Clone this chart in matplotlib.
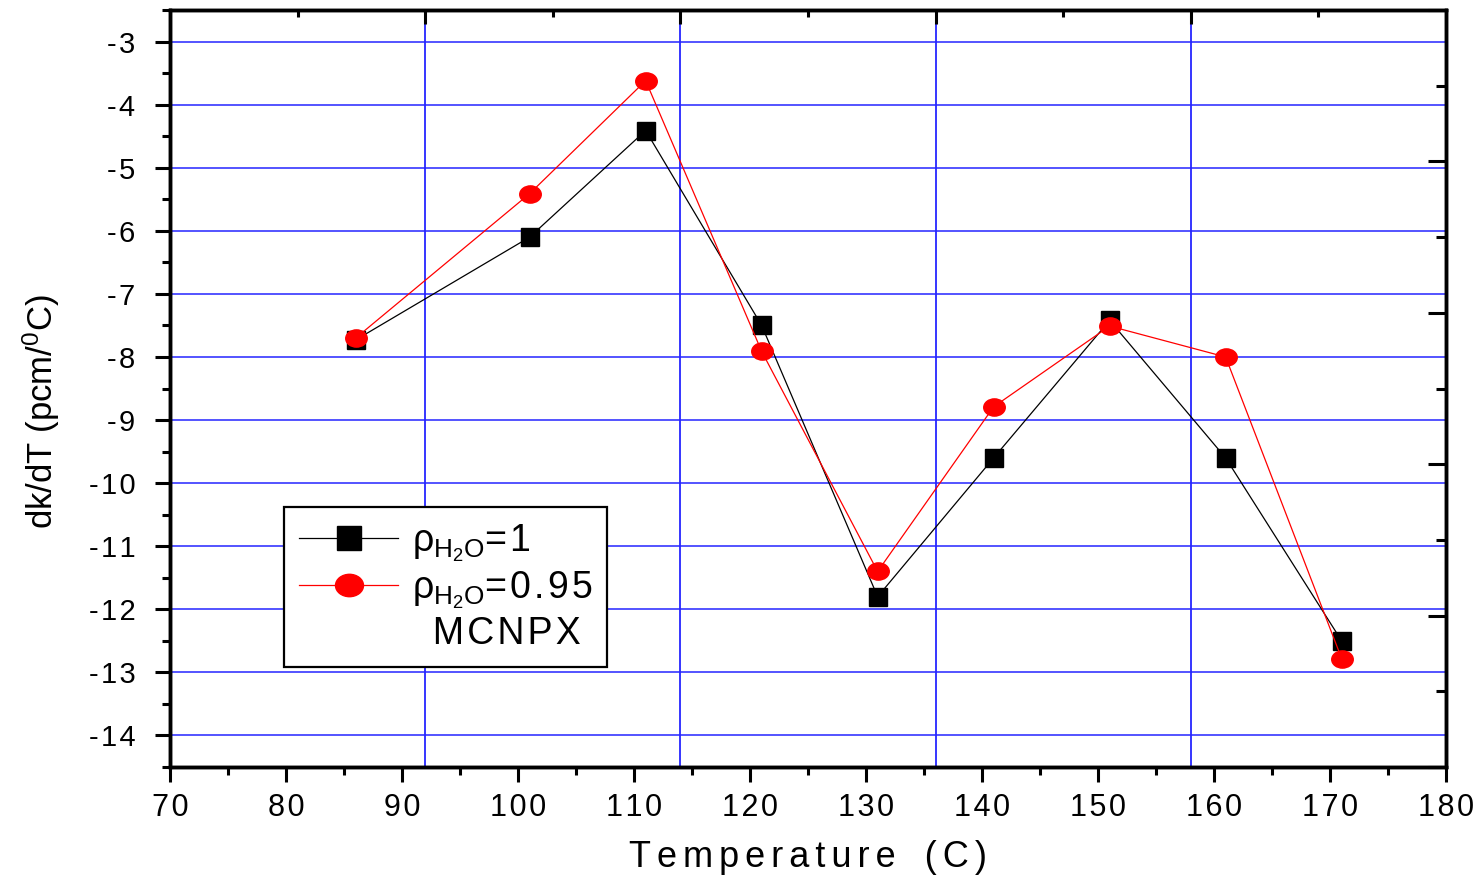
import numpy as np
import matplotlib.pyplot as plt
from matplotlib.lines import Line2D
from matplotlib.path import Path
from matplotlib.transforms import Affine2D
from matplotlib.ticker import FuncFormatter

plt.rcParams['font.family'] = ['Liberation Sans', 'DejaVu Sans']
plt.rcParams['mathtext.fontset'] = 'custom'
plt.rcParams['mathtext.rm'] = 'Liberation Sans'
plt.rcParams['mathtext.it'] = 'Liberation Sans'

temps = [86, 101, 111, 121, 131, 141, 151, 161, 171]
dkdt_rho1 = [-7.73, -6.10, -4.41, -7.50, -11.80, -9.60, -7.42, -9.60, -12.50]
dkdt_rho095 = [-7.70, -5.41, -3.62, -7.91, -11.40, -8.79, -7.51, -8.00, -12.78]

HS = '\u200a'  # hair space, Origin spreads its letters out


def spread(s, sep=HS):
    return sep.join(s)


label_rho1 = r'$\rho_{\mathrm{H_2O}}$' + spread('=1')
label_rho095 = r'$\rho_{\mathrm{H_2O}}$' + spread('=0.95')
label_code = '  ' + spread('MCNPX')

# origin style ellipse marker (circle squashed vertically)
ellipse = Affine2D().scale(1.0, 0.8).transform_path(Path.unit_circle())

fig = plt.figure(figsize=(14.79, 8.81), dpi=100)
ax = fig.add_axes([0.115, 0.1294, 0.8627, 0.8592])

xmin, xmax = 70, 180
ymin, ymax = -14.5, -2.5
ax.set_xlim(xmin, xmax)
ax.set_ylim(ymin, ymax)

# top/right axes are Origin's linked layer with 5 divisions
edges_x = np.linspace(xmin, xmax, 6)
top_major = edges_x[1:-1]
top_minor = (edges_x[:-1] + edges_x[1:]) / 2
right_major = np.linspace(ymin, ymax, 6)
right_minor = (right_major[:-1] + right_major[1:]) / 2

grid_col = '#2525ff'
for yv in np.arange(-14, -2.5, 1):
    ax.axhline(yv, color=grid_col, lw=1.1, zorder=0)
for xv in top_major:
    ax.axvline(xv, color=grid_col, lw=1.3, zorder=0)

ax.plot(temps, dkdt_rho1, color='black', lw=0.9, marker='s', ms=13.5,
        mfc='black', mec='black', zorder=3)
ax.plot(temps, dkdt_rho095, color='red', lw=0.9, marker=ellipse, ms=15.5,
        mfc='red', mec='red', zorder=4)

ax.set_xticks(np.arange(70, 181, 10))
ax.set_xticks(np.arange(75, 180, 10), minor=True)
ax.set_yticks(np.arange(-14, -2.5, 1))
ax.set_yticks(np.arange(-14.5, -2.4, 1), minor=True)
ax.xaxis.set_major_formatter(FuncFormatter(lambda v, p: spread('%d' % round(v))))
ax.yaxis.set_major_formatter(FuncFormatter(lambda v, p: spread('%d' % round(v))))

ax.tick_params(which='major', direction='out', length=11, width=2.2)
ax.tick_params(which='minor', direction='out', length=6, width=2.2)
ax.tick_params(axis='x', labelsize=22, pad=8)
ax.tick_params(axis='y', labelsize=21, pad=14)
for s in ax.spines.values():
    s.set_linewidth(2.4)

axt = ax.twiny()
axt.set_xlim(xmin, xmax)
axt.set_xticks(top_major)
axt.set_xticks(top_minor, minor=True)
axt.tick_params(which='major', direction='in', length=10, width=2.2, labeltop=False)
axt.tick_params(which='minor', direction='in', length=5, width=2.2)

axr = ax.twinx()
axr.set_ylim(ymin, ymax)
axr.set_yticks(right_major)
axr.set_yticks(right_minor, minor=True)
axr.tick_params(which='major', direction='in', length=13, width=2.2, labelright=False)
axr.tick_params(which='minor', direction='in', length=7, width=2.2)
for a in (axt, axr):
    for s in a.spines.values():
        s.set_linewidth(2.4)

ax.set_xlabel(spread('Temperature', HS * 2) + '  ' + HS * 3 + spread('(C)', HS * 2),
              fontsize=26, labelpad=12)
ax.set_ylabel(r'dk/dT (pcm/$^{0}$C)', fontsize=25)
ax.yaxis.set_label_coords(-0.085, 0.469)

handles = [
    Line2D([], [], color='black', lw=0.9, marker='s', ms=13.5, mfc='black'),
    Line2D([], [], color='red', lw=0.9, marker=ellipse, ms=15.5, mfc='red', mec='red'),
    Line2D([], [], color='none'),
]
leg = axr.legend(handles, [label_rho1, label_rho095, label_code],
                 loc='lower left', bbox_to_anchor=(0.0893, 0.132),
                 borderaxespad=0, fontsize=27, handlelength=2.65,
                 handletextpad=0.35, markerscale=1.3, labelspacing=0.14,
                 borderpad=0.4, fancybox=False, framealpha=1,
                 edgecolor='black')
leg.get_frame().set_linewidth(1.6)

fig.savefig('out.png', dpi=100)
